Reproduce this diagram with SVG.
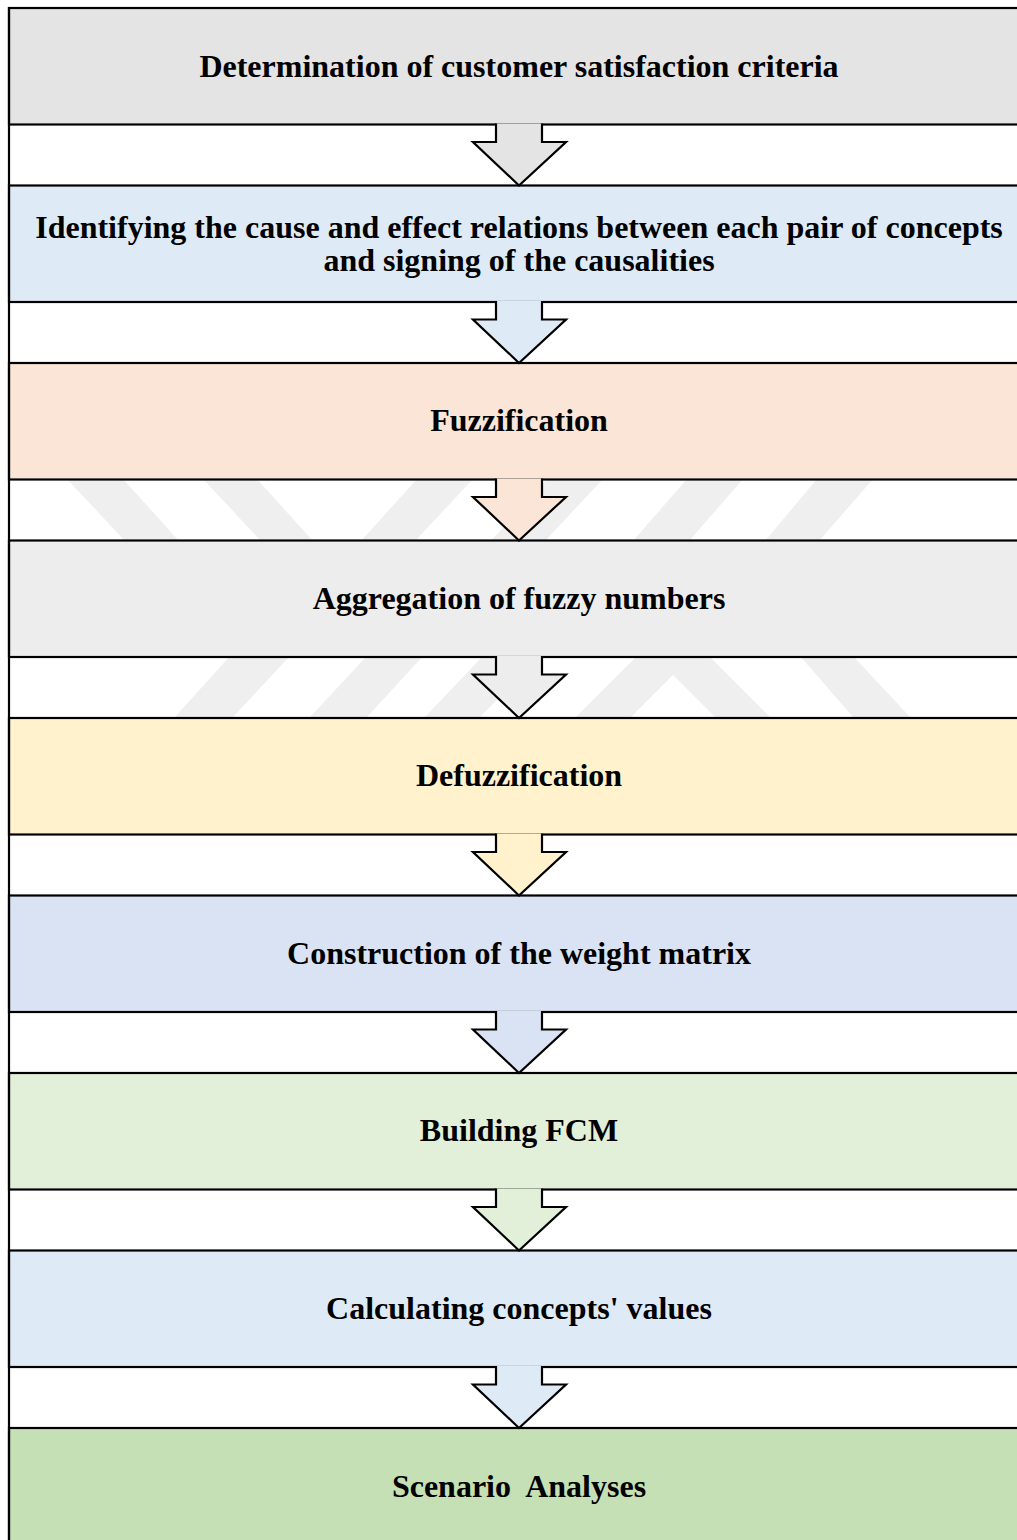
<svg xmlns="http://www.w3.org/2000/svg" width="1017" height="1540" viewBox="0 0 1017 1540">
<style>
.box{stroke:#000;stroke-width:2.2}
.arr{stroke:#000;stroke-width:2.2;stroke-linejoin:miter}
.lbl{font-family:"Liberation Serif","Times New Roman",serif;font-weight:bold;font-size:32px;fill:#000;text-anchor:middle;white-space:pre}
.wm{fill:#efefef}
</style>
<rect x="0" y="0" width="1017" height="1540" fill="#fff"/>
<g id="watermark">
<polygon class="wm" points="67,479 123,479 179,541 125,541"/>
<polygon class="wm" points="203,479 257,479 313,541 261,541"/>
<polygon class="wm" points="417,479 473,479 415,541 361,541"/>
<polygon class="wm" points="547,479 603,479 545,541 491,541"/>
<polygon class="wm" points="687,479 743,479 689,541 633,541"/>
<polygon class="wm" points="817,479 873,479 819,541 765,541"/>
<polygon class="wm" points="230,656 290,656 233,717 175,717"/>
<polygon class="wm" points="367,656 423,656 367,717 310,717"/>
<polygon class="wm" points="483,656 540,656 480,717 425,717"/>
<polygon class="wm" points="637,656 709,656 770,717 715,717 673,675 631,717 576,717"/>
<polygon class="wm" points="800,656 853,656 910,717 853,717"/>
</g>
<g id="nodes">
<g id="n1"><rect class="box" x="9" y="8" width="1030" height="116.5" fill="#e4e4e4"/><text class="lbl" x="519" y="77">Determination of customer satisfaction criteria</text></g>
<g id="n2"><rect class="box" x="9" y="185.5" width="1030" height="116.5" fill="#deebf7"/><text class="lbl" x="519" y="238">Identifying the cause and effect relations between each pair of concepts</text><text class="lbl" x="519" y="271">and signing of the causalities</text></g>
<g id="n3"><rect class="box" x="9" y="363" width="1030" height="116.5" fill="#fbe5d6"/><text class="lbl" x="519" y="431">Fuzzification</text></g>
<g id="n4"><rect class="box" x="9" y="540.5" width="1030" height="116.5" fill="#ededed"/><text class="lbl" x="519" y="609">Aggregation of fuzzy numbers</text></g>
<g id="n5"><rect class="box" x="9" y="718" width="1030" height="116.5" fill="#fff2cc"/><text class="lbl" x="519" y="786">Defuzzification</text></g>
<g id="n6"><rect class="box" x="9" y="895.5" width="1030" height="116.5" fill="#dae3f3"/><text class="lbl" x="519" y="964">Construction of the weight matrix</text></g>
<g id="n7"><rect class="box" x="9" y="1073" width="1030" height="116.5" fill="#e2f0d9"/><text class="lbl" x="519" y="1141">Building FCM</text></g>
<g id="n8"><rect class="box" x="9" y="1250.5" width="1030" height="116.5" fill="#deebf7"/><text class="lbl" x="519" y="1319">Calculating concepts' values</text></g>
<g id="n9"><rect class="box" x="9" y="1428" width="1030" height="130" fill="#c5e0b4"/><text class="lbl" x="519" y="1497">Scenario  Analyses</text></g>
</g>
<line x1="9" y1="7" x2="9" y2="1540" stroke="#000" stroke-width="2.2"/>
<g id="connectors">
<path class="arr" fill="#e4e4e4" d="M496,123.5 V142 H473 L519,185.5 L566,142 H542 V123.5"/>
<path class="arr" fill="#deebf7" d="M496,301 V319.5 H473 L519,363 L566,319.5 H542 V301"/>
<path class="arr" fill="#fbe5d6" d="M496,478.5 V497 H473 L519,540.5 L566,497 H542 V478.5"/>
<path class="arr" fill="#ededed" d="M496,656 V674.5 H473 L519,718 L566,674.5 H542 V656"/>
<path class="arr" fill="#fff2cc" d="M496,833.5 V852 H473 L519,895.5 L566,852 H542 V833.5"/>
<path class="arr" fill="#dae3f3" d="M496,1011 V1029.5 H473 L519,1073 L566,1029.5 H542 V1011"/>
<path class="arr" fill="#e2f0d9" d="M496,1188.5 V1207 H473 L519,1250.5 L566,1207 H542 V1188.5"/>
<path class="arr" fill="#deebf7" d="M496,1366 V1384.5 H473 L519,1428 L566,1384.5 H542 V1366"/>
</g>
</svg>
